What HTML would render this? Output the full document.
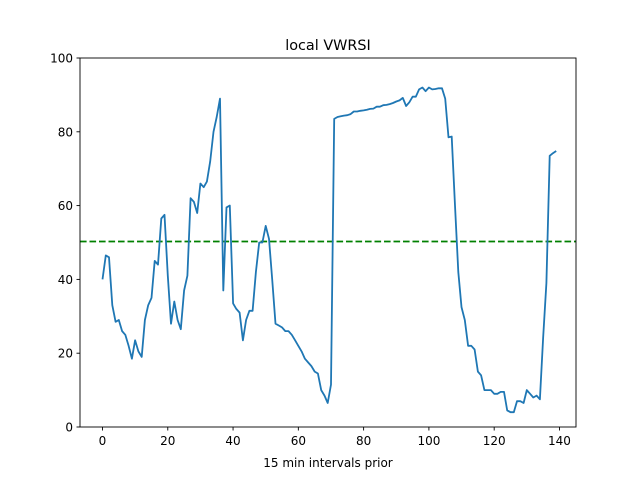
<!DOCTYPE html>
<html><head><meta charset="utf-8"><style>
body{margin:0;background:#fff;}
svg text{font-family:"DejaVu Sans","Liberation Sans",sans-serif;fill:#000;}
</style></head><body>
<svg id="s" width="640" height="480" viewBox="0 0 640 480" xmlns="http://www.w3.org/2000/svg">
<rect width="640" height="480" fill="#fff"/>
<text x="328" y="50" font-size="14.4" text-anchor="middle">local VWRSI</text>
<line x1="80" y1="241.5" x2="576" y2="241.5" stroke="#008000" stroke-width="1.8" stroke-dasharray="6.6,2.9"/>
<polyline id="p" fill="none" stroke="#1f77b4" stroke-width="1.8" stroke-linejoin="round" points=""/>
<rect x="80" y="58" width="496" height="369" fill="none" stroke="#000" stroke-width="0.9"/>
<g id="t" font-size="12" stroke="#000" stroke-width="0.9"></g>
<text x="328" y="467" font-size="12" text-anchor="middle">15 min intervals prior</text>
</svg>
<script>
var d=[40,46.5,46,33,28.5,29,26,25,22,18.5,23.5,20.5,19,29,33,35,45,44,56.5,57.5,41,28,34,29,26.5,37,41,62,61,58,66,65,66.5,72,80,84,89,37,59.5,60,33.5,32,31,23.5,29,31.5,31.5,42,50,50,54.5,51,40,28,27.5,27,26,26,25,23.5,22,20.5,18.5,17.5,16.5,15,14.5,10,8.5,6.5,11.5,83.5,84,84.2,84.4,84.5,84.8,85.5,85.5,85.7,85.8,86,86.2,86.3,86.8,86.8,87.2,87.3,87.5,87.8,88.2,88.5,89.2,87,88,89.5,89.5,91.5,92,91,92,91.5,91.6,91.8,91.8,89,78.5,78.7,60,42,32.5,29,22,22,21,15,14,10,10,10,9,9,9.5,9.5,4.5,4,4,7,7,6.5,10,9,8,8.5,7.5,24,39,73.5,74.2,74.8];
function X(v){return 102.5+v*3.264;}function Y(v){return 427-v*3.69;}
document.getElementById('p').setAttribute('points',d.map(function(v,i){return X(i).toFixed(1)+','+Y(v).toFixed(1);}).join(' '));
var g=document.getElementById('t'),h='';
for(var i=0;i<=140;i+=20){var x=X(i);h+='<line x1="'+x+'" y1="427" x2="'+x+'" y2="430.5"/><text stroke="none" x="'+x+'" y="445" text-anchor="middle">'+i+'</text>';}
for(var v=0;v<=100;v+=20){var y=Y(v);h+='<line x1="76.5" y1="'+y+'" x2="80" y2="'+y+'"/><text stroke="none" x="73" y="'+(y+4.5)+'" text-anchor="end">'+v+'</text>';}
g.innerHTML=h;
</script>
</body></html>
